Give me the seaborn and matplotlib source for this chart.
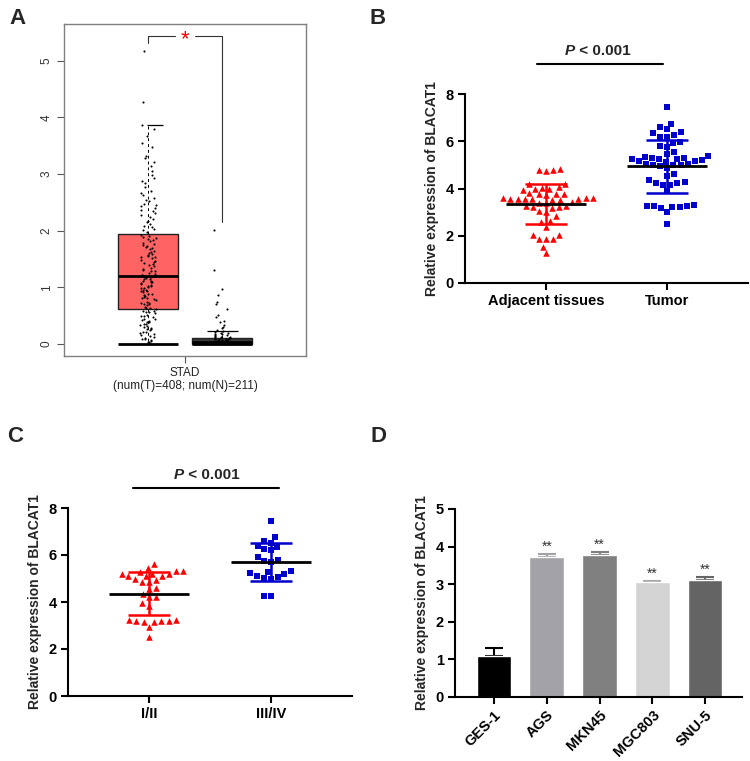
import numpy as np
import pandas as pd
import matplotlib
matplotlib.use("Agg")
import matplotlib.pyplot as plt
from matplotlib.collections import PathCollection
import seaborn as sns

# ---- panel A: GEPIA box plot (STAD) ----
tumor_expr = [
    0.02, 0.05, 0.09, 0.04, 0.12, 0.17, 0.08, 0.22, 0.15, 0.27, 0.19, 0.31, 0.24, 0.36, 0.29, 0.41,
    0.33, 0.03, 0.45, 0.38, 0.49, 0.26, 0.52, 0.43, 0.56, 0.47, 0.11, 0.59, 0.35, 0.54, 0.61, 0.07,
    0.44, 0.58, 0.21, 0.50, 0.14, 0.39, 0.57, 0.30,
    0.64, 0.68, 0.71, 0.66, 0.75, 0.79, 0.73, 0.83, 0.87, 0.81, 0.91, 0.95, 0.89, 0.98, 1.02, 0.96,
    1.05, 1.09, 1.03, 1.12, 1.16, 1.10, 1.19, 0.70, 0.85, 0.93, 1.07, 1.14, 0.77, 0.99, 1.18, 0.63,
    0.88, 1.01, 1.15, 0.72, 0.94, 1.11, 0.82, 1.06,
    1.22, 1.26, 1.31, 1.24, 1.35, 1.39, 1.29, 1.43, 1.47, 1.37, 1.51, 1.55, 1.45, 1.59, 1.63, 1.53,
    1.67, 1.71, 1.61, 1.75, 1.79, 1.69, 1.83, 1.87, 1.77, 1.91, 1.93, 1.85, 1.28, 1.41, 1.57, 1.73,
    1.89, 1.33, 1.49, 1.65, 1.81, 1.21, 1.97, 1.54,
    2.01, 2.06, 2.12, 2.18, 2.09, 2.24, 2.31, 2.15, 2.37, 2.44, 2.27, 2.41, 2.52, 2.35, 2.63, 2.48,
    2.71, 2.58, 2.84, 2.66, 2.93, 2.77, 3.05, 2.88, 3.14, 3.21, 2.99, 3.32, 3.47, 3.55, 3.28, 3.68,
    3.79, 3.86, 2.03, 2.21, 2.46, 2.55,
    4.27, 5.18,
]
normal_expr = [
    0.00, 0.01, 0.02, 0.01, 0.03, 0.02, 0.04, 0.03, 0.05, 0.02, 0.06, 0.04, 0.07, 0.05, 0.03, 0.08,
    0.06, 0.01, 0.09, 0.04, 0.10, 0.07, 0.02, 0.11, 0.05, 0.08, 0.03, 0.12, 0.06, 0.09, 0.01, 0.04,
    0.13, 0.07, 0.15, 0.10, 0.17, 0.14, 0.19, 0.12, 0.21, 0.16, 0.23, 0.18, 0.25, 0.20, 0.28, 0.30,
    0.33, 0.38, 0.41, 0.47, 0.52, 0.61, 0.70, 0.74, 0.86, 0.97, 1.31, 2.01,
]
# whislo, q1, median, q3, whishi
tumor_box = [0.0, 0.62, 1.20, 1.94, 3.87]
normal_box = [0.0, 0.0, 0.03, 0.10, 0.23]
a_xlabel = "STAD\n(num(T)=408; num(N)=211)"

# ---- panel B: adjacent vs tumor ----
b_groups = ["Adjacent tissues", "Tumor"]
b_adjacent = [
    4.82, 4.78, 4.72, 4.80, 4.20, 4.18, 4.05, 3.98, 4.00, 3.95, 4.02, 3.78, 3.75, 3.72, 3.76, 3.80,
    3.58, 3.55, 3.52, 3.56, 3.60, 3.54, 3.57, 3.53, 3.59, 3.55, 3.40, 3.42, 3.38, 3.22, 3.25, 3.20,
    3.18, 3.24, 3.05, 3.00, 2.82, 2.60, 2.62, 2.38, 2.02, 2.05, 1.85, 1.88, 1.86, 1.52, 1.25,
]
b_tumor = [
    7.45, 6.75, 6.60, 6.50, 6.38, 6.35, 6.25, 6.20, 6.18, 5.95, 5.93, 5.80, 5.75, 5.55, 5.45, 5.35,
    5.36, 5.30, 5.31, 5.25, 5.26, 5.24, 5.20, 5.15, 5.16, 5.14, 5.05, 5.00, 5.01, 4.99, 5.02, 4.95,
    4.85, 4.60, 4.55, 4.35, 4.25, 4.26, 4.24, 4.15, 4.16, 3.90, 3.30, 3.25, 3.24, 3.26, 3.20, 3.19,
    3.21, 3.00, 2.50,
]

# ---- panel C: TNM stage ----
c_groups = ["I/II", "III/IV"]
c_early = [
    5.60, 5.45, 5.30, 5.31, 5.29, 5.20, 5.21, 5.19, 5.10, 5.11, 5.09, 4.95, 4.96, 4.85, 4.86, 4.60,
    4.55, 4.35, 4.20, 4.21, 3.95, 3.85, 3.25, 3.20, 3.21, 3.19, 3.22, 3.15, 3.16, 2.95, 2.50,
]
c_late = [
    7.45, 6.75, 6.60, 6.50, 6.40, 6.35, 6.25, 6.20, 5.90, 5.80, 5.75, 5.70, 5.30, 5.25, 5.26, 5.20,
    5.10, 5.05, 5.00, 5.01, 4.25, 4.26,
]

# ---- panel D: cell lines ----
cell_lines = ["GES-1", "AGS", "MKN45", "MGC803", "SNU-5"]
cell_means = [1.09, 3.73, 3.77, 3.05, 3.12]
cell_err = [0.21, 0.07, 0.08, 0.04, 0.08]
cell_colors = ["#000000", "#a2a2a8", "#808080", "#d4d4d4", "#646464"]
cell_stars = ["", "**", "**", "**", "**"]

sns.set_theme(style="ticks")
plt.rcParams["font.family"] = ["Liberation Sans", "DejaVu Sans"]
plt.rcParams["font.weight"] = "bold"

fig = plt.figure(figsize=(7.5, 7.61), dpi=100)
W, H = 750.0, 761.0


def px_axes(left, top, right, bottom):
    return fig.add_axes([left / W, 1 - bottom / H, (right - left) / W, (bottom - top) / H])


# ================= A =================
axA = px_axes(64, 24, 306, 356)
dfA = pd.DataFrame({
    "group": ["T"] * len(tumor_expr) + ["N"] * len(normal_expr),
    "expr": tumor_expr + normal_expr,
})
stats = []
for b in (tumor_box, normal_box):
    stats.append(dict(whislo=b[0], q1=b[1], med=b[2], q3=b[3], whishi=b[4], fliers=[]))
bp = axA.bxp(stats, positions=[0, 1], widths=0.81, patch_artist=True, showcaps=False,
             boxprops=dict(linewidth=1.0, edgecolor="#222222"),
             medianprops=dict(color="black", linewidth=2),
             whiskerprops=dict(color="black", linewidth=0.7, linestyle=(0, (3, 3))),
             zorder=1)
bp["boxes"][0].set_facecolor("#ff6464")
bp["boxes"][1].set_facecolor("#3a3a3a")
# caps as drawn by GEPIA
axA.hlines(tumor_box[4], -0.01, 0.20, color="black", lw=0.9, zorder=2)
axA.hlines(normal_box[4], 0.80, 1.22, color="black", lw=0.9, zorder=2)
axA.hlines(tumor_box[0], -0.405, 0.405, color="black", lw=2, zorder=2)
axA.hlines(normal_box[0], 0.595, 1.405, color="black", lw=2, zorder=2)
np.random.seed(3)
sns.stripplot(data=dfA, x="group", y="expr", order=["T", "N"], color="black", size=1.5,
              jitter=0.11, linewidth=0, ax=axA, zorder=3)
# significance bracket
axA.plot([0, 0, 0.37], [5.32, 5.44, 5.44], color="#333333", lw=0.8)
axA.plot([0.63, 1, 1], [5.44, 5.44, 2.16], color="#333333", lw=0.8)
axA.text(0.5, 5.38, "*", color="red", ha="center", va="center", fontsize=16, fontweight="normal")
axA.set_xlim(-1.135, 2.135)
axA.set_ylim(-0.212, 5.65)
axA.set_xticks([0.5])
axA.set_xticklabels([a_xlabel], fontsize=8.5, fontweight="normal", color="#222222",
                    linespacing=1.1)
axA.set_yticks([0, 1, 2, 3, 4, 5])
axA.set_yticklabels(["0", "1", "2", "3", "4", "5"], rotation=90, va="center",
                    fontsize=8.5, fontweight="normal", color="#333333")
axA.set_xlabel("")
axA.set_ylabel("")
for s in axA.spines.values():
    s.set_color("#808080")
    s.set_linewidth(1.0)
axA.tick_params(length=5, width=0.8, color="#555555", pad=3)

# swarm layout is computed with a slightly larger marker so the points sit apart
SWARM_LAYOUT = 5.0
TRI_SIZE, SQ_SIZE = 4.7, 4.2


# ================= B & C (scatter dot plots) =================
def dot_panel(ax, groups, vals_a, vals_b, ylab_pad):
    df_a = pd.DataFrame({"g": groups[0], "v": vals_a})
    df_b = pd.DataFrame({"g": groups[1], "v": vals_b})
    sns.swarmplot(data=df_a, x="g", y="v", order=groups, color="#ff0000", marker="^",
                  size=SWARM_LAYOUT, linewidth=0, ax=ax, clip_on=False, zorder=3)
    sns.swarmplot(data=df_b, x="g", y="v", order=groups, color="#0000cc", marker="s",
                  size=SWARM_LAYOUT, linewidth=0, ax=ax, clip_on=False, zorder=3)
    for i, (vals, col) in enumerate([(vals_a, "#ff0000"), (vals_b, "#0000cc")]):
        m = np.mean(vals)
        sd = np.std(vals, ddof=1)
        ax.vlines(i, m - sd, m + sd, color=col, lw=1.8, zorder=4)
        ax.hlines([m - sd, m + sd], i - 0.17, i + 0.17, color=col, lw=1.8, zorder=4)
        ax.hlines(m, i - 0.33, i + 0.33, color="black", lw=2, zorder=5)
    ax.set_ylim(0, 8)
    ax.set_yticks([0, 2, 4, 6, 8])
    ax.set_xlabel("")
    ax.set_ylabel("Relative expression of BLACAT1", fontsize=10, fontweight="bold", labelpad=ylab_pad)
    sns.despine(ax=ax)
    for s in ax.spines.values():
        s.set_linewidth(1.5)
        s.set_color("black")
    ax.tick_params(length=5, width=1.5, labelsize=10.5, pad=3, colors="black")
    for t in ax.get_xticklabels() + ax.get_yticklabels():
        t.set_fontweight("bold")


axB = px_axes(465, 94, 748, 283)
dot_panel(axB, b_groups, b_adjacent, b_tumor, 5)
axB.set_xlim(-0.669, 1.669)
axB.plot([-0.074, 0.967], [9.28, 9.28], color="black", lw=1.5, clip_on=False)
axB.text(0.24, 9.8, "P", style="italic", fontweight="bold", fontsize=11, ha="right", va="center")
axB.text(0.24, 9.8, " < 0.001", fontweight="bold", fontsize=11, ha="left", va="center")

axC = px_axes(68, 508, 352, 696)
dot_panel(axC, c_groups, c_early, c_late, 5)
axC.set_xlim(-0.664, 1.664)
axC.plot([-0.131, 1.066], [8.85, 8.85], color="black", lw=1.5, clip_on=False)
axC.text(0.287, 9.42, "P", style="italic", fontweight="bold", fontsize=11, ha="right", va="center")
axC.text(0.287, 9.42, " < 0.001", fontweight="bold", fontsize=11, ha="left", va="center")

# ================= D =================
axD = px_axes(455, 509, 742, 697)
sns.barplot(x=cell_lines, y=cell_means, hue=cell_lines, palette=cell_colors, width=0.66,
            saturation=1, legend=False, ax=axD, zorder=2)
for i, (m, e, c, st) in enumerate(zip(cell_means, cell_err, cell_colors, cell_stars)):
    ecol = c if c != "#d4d4d4" else "#a8a8a8"
    axD.errorbar(i, m, yerr=[[0], [e]], fmt="none", ecolor=ecol, elinewidth=1.5,
                 capsize=6.5, capthick=1.5, zorder=1)
    if st:
        axD.text(i, m + e + 0.01, st, ha="center", va="bottom", fontsize=10,
                 fontweight="normal", color="#333333")
axD.set_xlim(-0.739, 4.70)
axD.set_ylim(0, 5)
axD.set_yticks([0, 1, 2, 3, 4, 5])
axD.set_ylabel("Relative expression of BLACAT1", fontsize=10, fontweight="bold", labelpad=5)
sns.despine(ax=axD)
for s in axD.spines.values():
    s.set_linewidth(1.5)
    s.set_color("black")
axD.tick_params(length=5, width=1.5, labelsize=10.5, pad=3, colors="black")
for t in axD.get_yticklabels():
    t.set_fontweight("bold")
for t in axD.get_xticklabels():
    t.set_fontweight("bold")
    t.set_rotation(45)
    t.set_ha("right")
    t.set_rotation_mode("anchor")

# panel letters
for lab, x, y in [("A", 17, 19), ("B", 378, 19), ("C", 15, 436), ("D", 378, 436)]:
    fig.text(x / W, 1 - y / H, lab, ha="center", va="center", fontsize=16, fontweight="bold")

# run the swarm layout once at final limits, then freeze it and shrink the markers
fig.canvas.draw()
for ax in (axB, axC):
    pts = [c for c in ax.collections if isinstance(c, PathCollection)]
    for c, sz in zip(pts, (TRI_SIZE, SQ_SIZE)):
        if "draw" in c.__dict__:
            del c.draw
        c.set_sizes([sz ** 2])

fig.savefig("out.png", dpi=100)
